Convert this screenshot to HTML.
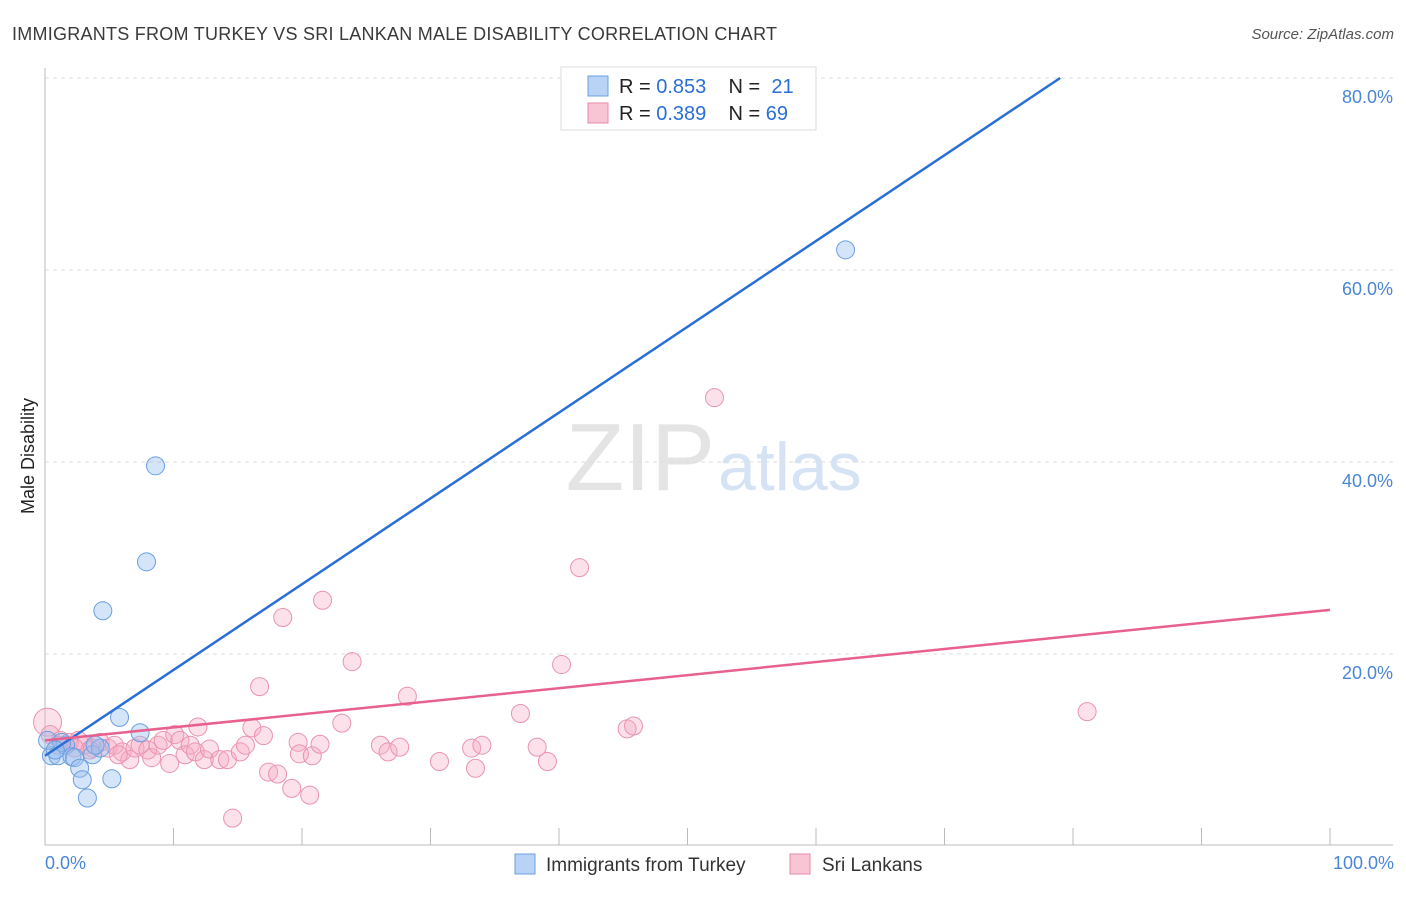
<!DOCTYPE html>
<html><head><meta charset="utf-8"><style>
body{margin:0;background:#fff;font-family:"Liberation Sans",sans-serif;}
svg text{font-family:"Liberation Sans",sans-serif;}
</style></head><body>
<svg id="chart" width="1406" height="892">
<text x="12" y="40" font-size="18" fill="#3a3a3a" textLength="765">IMMIGRANTS FROM TURKEY VS SRI LANKAN MALE DISABILITY CORRELATION CHART</text>
<text x="1394" y="39" font-size="15" fill="#555" text-anchor="end" font-style="italic">Source: ZipAtlas.com</text>
<text x="715" y="490" font-size="96" fill="#e4e4e4" text-anchor="end" font-family="Liberation Serif">ZIP</text>
<text x="718" y="490" font-size="68" fill="#d6e3f5">atlas</text>
<g id="grid"></g><g id="axes"></g><g id="pts"></g><g id="lines"></g>
<text x="34" y="456" font-size="18" fill="#222" text-anchor="middle" transform="rotate(-90 34 456)">Male Disability</text>
<text x="45" y="869" font-size="18" fill="#4a86d8">0.0%</text>
<text x="1394" y="869" font-size="18" fill="#4a86d8" text-anchor="end">100.0%</text>
<g>
<rect x="561" y="67" width="255" height="63" fill="#fff" stroke="#ddd"/>
<rect x="588" y="76" width="20" height="20" fill="#b8d3f5" stroke="#6a9fe0"/>
<rect x="588" y="103" width="20" height="20" fill="#f8c5d5" stroke="#e88aa8"/>
<text x="619" y="93" font-size="20" fill="#222" xml:space="preserve">R = <tspan fill="#2a6fd6">0.853</tspan>    N =  <tspan fill="#2a6fd6">21</tspan></text>
<text x="619" y="120" font-size="20" fill="#222" xml:space="preserve">R = <tspan fill="#2a6fd6">0.389</tspan>    N = <tspan fill="#2a6fd6">69</tspan></text>
</g>
<g>
<rect x="515" y="854" width="20" height="20" fill="#b8d3f5" stroke="#6a9fe0"/>
<text x="546" y="871" font-size="19" fill="#333">Immigrants from Turkey</text>
<rect x="790" y="854" width="20" height="20" fill="#f8c5d5" stroke="#e88aa8"/>
<text x="822" y="871" font-size="19" fill="#333">Sri Lankans</text>
</g>
</svg>
<script>
const yTicks=[20,40,60,80];
const blueX=[0.5,1.0,1.6,2.1,2.3,2.7,2.9,3.3,3.7,4.3,4.5,5.2,5.8,7.4,7.9,8.6,62.3,0.2,1.3,0.8,3.9];
const blueY=[9.4,9.4,10.5,9.3,9.2,8.1,6.9,5.0,9.5,10.2,24.5,7.0,13.4,11.8,29.6,39.6,62.1,11.0,10.8,10.0,10.5];
const pinkX=[0.2,0.4,1.2,1.6,1.9,2.6,3.1,3.7,4.3,4.9,5.4,6.0,6.6,7.0,7.4,8.0,8.3,8.8,9.2,9.7,10.1,10.5,10.9,11.3,11.7,11.9,12.4,12.8,13.6,14.2,14.6,15.2,15.6,16.1,16.7,17.0,17.4,18.1,18.5,19.2,19.7,19.8,20.6,20.8,21.4,21.6,23.1,23.9,26.1,26.7,27.6,28.2,30.7,33.2,33.5,34.0,37.0,38.3,39.1,40.2,41.6,45.3,45.8,52.1,81.1,1.0,3.5,5.7,2.3];
const pinkY=[12.9,11.6,11.0,10.5,10.8,11.0,10.5,10.2,10.8,10.2,10.5,9.8,9.0,10.2,10.5,10.0,9.2,10.5,11.0,8.6,11.6,11.0,9.5,10.5,9.8,12.4,9.0,10.1,9.0,9.0,2.9,9.8,10.5,12.3,16.6,11.5,7.7,7.5,23.8,6.0,10.8,9.6,5.3,9.4,10.6,25.6,12.8,19.2,10.5,9.8,10.3,15.6,8.8,10.2,8.1,10.5,13.8,10.3,8.8,18.9,29.0,12.2,12.5,46.7,14.0,10.5,10.0,9.5,10.2];
const blueLine=[[0,9.4],[79,80]];
const pinkLine=[[0,11.0],[100,24.6]];
const X=v=>45+v*12.85, Y=v=>846-v*9.6;
const NS="http://www.w3.org/2000/svg";
function mk(p,t,a){const e=document.createElementNS(NS,t);for(const k in a)e.setAttribute(k,a[k]);document.getElementById(p).appendChild(e);return e;}
yTicks.forEach(t=>{
 const l=mk('grid','line',{x1:45,x2:1393,y1:Y(t),y2:Y(t),stroke:'#ddd','stroke-dasharray':'4,4'});
 
 
 const tx=mk('grid','text',{x:1393,y:Y(t)+25,'font-size':18,fill:'#4a86d8','text-anchor':'end'});
 tx.textContent=t.toFixed(1)+'%';
 
 
});
const ax=mk('axes','line',{x1:45,x2:45,y1:68,y2:845,stroke:'#bbb'});


const bx=mk('axes','line',{x1:45,x2:1393,y1:845,y2:845,stroke:'#bbb'});


for(let i=1;i<=10;i++){const t=mk('axes','line',{x1:X(i*10),x2:X(i*10),y1:828,y2:845,stroke:'#bbb'});
 
 }
pinkX.forEach((x,i)=>{const c=mk('pts','circle',{cx:X(x),cy:Y(pinkY[i]),r:i==0?14:9,fill:'rgba(245,170,195,0.35)',stroke:'#ea93b0','stroke-width':1});
 
 });
blueX.forEach((x,i)=>{const c=mk('pts','circle',{cx:X(x),cy:Y(blueY[i]),r:9,fill:'rgba(150,190,240,0.4)',stroke:'#6a9fe0','stroke-width':1});
 
 });
const bl=mk('lines','line',{x1:X(blueLine[0][0]),y1:Y(blueLine[0][1]),x2:X(blueLine[1][0]),y2:Y(blueLine[1][1]),stroke:'#2a6fd6','stroke-width':2.5});


const pl=mk('lines','line',{x1:X(pinkLine[0][0]),y1:Y(pinkLine[0][1]),x2:X(pinkLine[1][0]),y2:Y(pinkLine[1][1]),stroke:'#e8608e','stroke-width':2.5});


</script>
</body></html>
